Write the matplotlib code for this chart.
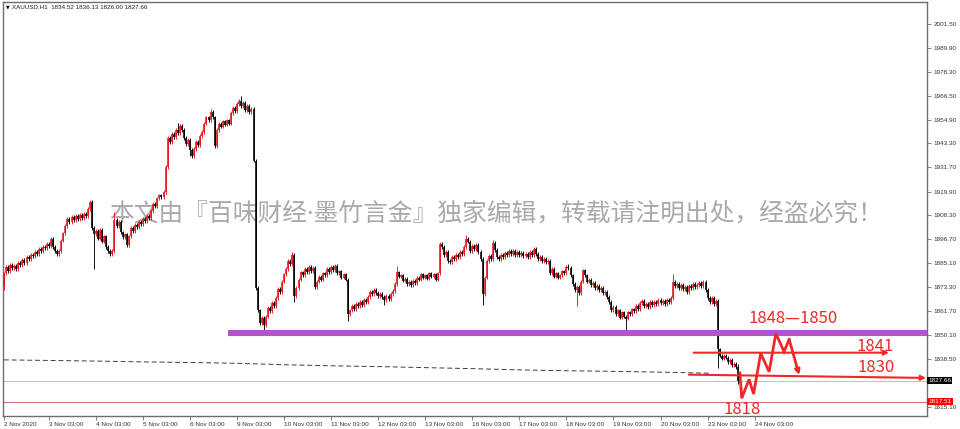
import numpy as numpy
import matplotlib
matplotlib.use('Agg')
import matplotlib.pyplot as plt

SYMBOL = 'XAUUSD,H1'

# hourly closes, one list per trading day
nov02 = [1880, 1883, 1881, 1884, 1882.5, 1883.5, 1882, 1885, 1884, 1886.5, 1885, 1888,
         1887, 1889, 1888.5, 1890.5, 1889.5, 1892, 1891, 1893, 1892.5, 1894.5, 1893.5]
nov03 = [1897, 1893, 1891, 1889.5, 1891, 1896, 1899.5, 1903, 1906.5, 1905, 1907.5, 1906,
         1908, 1906.5, 1908.5, 1907, 1909, 1908, 1911.5, 1915, 1902, 1899, 1900.5]
nov04 = [1897, 1901, 1895.5, 1898, 1893, 1891, 1889.5, 1891, 1906, 1903, 1905, 1900,
         1897.5, 1899, 1894, 1898, 1902, 1900.5, 1903.5, 1902.5, 1905, 1904, 1906.5]
nov05 = [1905.5, 1908, 1907, 1910.5, 1914, 1913, 1916.5, 1918, 1917, 1919.5, 1932, 1946,
         1944, 1948, 1946.5, 1950, 1948.5, 1952, 1950, 1946, 1943, 1945, 1940]
nov06 = [1937, 1940.5, 1944, 1942.5, 1947, 1949, 1953, 1956, 1954.5, 1958.5, 1956, 1942,
         1950, 1953, 1951.5, 1954, 1952.5, 1954.5, 1953, 1958, 1960.5, 1959, 1962.5]
nov09 = [1964, 1961.5, 1963, 1959.5, 1961.5, 1958.5, 1960, 1935, 1873, 1862, 1856, 1858.5,
         1855, 1859, 1863, 1861.5, 1865.5, 1864, 1868, 1872.5, 1871, 1876, 1879.5]
nov10 = [1882, 1886, 1884.5, 1889, 1869, 1873, 1877, 1880.5, 1879, 1882, 1880.5, 1883,
         1881, 1882.5, 1873.5, 1876, 1878.5, 1877, 1880, 1879, 1882, 1880.5, 1883]
nov11 = [1881.5, 1883.5, 1880, 1881, 1878, 1879.5, 1877, 1860, 1862, 1864, 1862.5, 1865,
         1864, 1866, 1864.5, 1867, 1866, 1868.5, 1871, 1870, 1872, 1870.5, 1869]
nov12 = [1870, 1868.5, 1867, 1869, 1867.5, 1870, 1871.5, 1875, 1880.5, 1878.5, 1879, 1876.5,
         1877.5, 1875, 1876, 1874.5, 1876.5, 1875.5, 1878, 1877, 1879.5, 1878, 1879]
nov13 = [1877.5, 1880, 1878.5, 1879.5, 1877, 1880, 1894.5, 1893, 1889, 1890.5, 1886, 1885.5,
         1888, 1887, 1889, 1888, 1890.5, 1889.5, 1893, 1897, 1895.5, 1891, 1893.5]
nov16 = [1892, 1894, 1890.5, 1887, 1870, 1878, 1886, 1888.5, 1887, 1895, 1891.5, 1888,
         1887, 1889, 1888, 1890, 1889, 1891, 1889.5, 1891, 1889, 1890.5, 1889]
nov17 = [1890, 1888.5, 1889.5, 1888, 1890.5, 1889, 1892, 1889.5, 1887, 1888, 1886, 1887,
         1885.5, 1886, 1880, 1882, 1878.5, 1880, 1878, 1879, 1881, 1880, 1883]
nov18 = [1882.5, 1879, 1875, 1872, 1873.5, 1870.5, 1876, 1881.5, 1879, 1876, 1877, 1874.5,
         1875.5, 1873, 1874, 1872, 1873, 1870.5, 1871, 1868.5, 1866, 1862, 1863.5]
nov19 = [1860, 1862, 1858.5, 1861, 1859, 1858, 1861, 1860, 1862.5, 1861.5, 1864, 1862.5,
         1865.5, 1866.5, 1864, 1865, 1863.5, 1866, 1864.5, 1866, 1865, 1867, 1865.5]
nov20 = [1866.5, 1865, 1867, 1866, 1868, 1876, 1874, 1875, 1873, 1874.5, 1872.5, 1873.5,
         1871, 1874, 1873, 1875, 1873.5, 1874.5, 1875.5, 1874, 1876, 1872, 1868]
nov23 = [1866, 1868, 1865, 1866.5, 1843, 1840, 1838.5, 1840, 1839, 1837, 1838, 1835.5,
         1836, 1834.52, 1827.66]
firstOpen = 1874.0

# long shadows that stand out (bar index -> price)
wickHighs = {54: 1910, 85: 1953.5, 101: 1960, 116: 1966.5, 141: 1890.5, 192: 1883.5,
             226: 1898.6, 239: 1896.5, 276: 1884.5, 327: 1879.5, 359: 1836.13}
wickLows = {0: 1872, 44: 1882, 91: 1937, 127: 1850.2, 142: 1866, 168: 1857, 186: 1864.6,
            234: 1864.6, 280: 1864, 304: 1852.5, 349: 1834, 359: 1826.0}

# right price scale (the 1826.90 level sits under the bid tag)
priceTicks = [2001.50, 1989.90, 1978.30, 1966.50, 1954.90, 1943.30, 1931.70, 1919.90,
              1908.30, 1896.70, 1885.10, 1873.30, 1861.70, 1850.10, 1838.50, 1826.90, 1815.10]
hiddenTick = 1826.90

# time scale labels and the bar they sit on
dateLabels = ['2 Nov 2020', '3 Nov 03:00', '4 Nov 03:00', '5 Nov 03:00', '6 Nov 03:00',
              '9 Nov 03:00', '10 Nov 03:00', '11 Nov 03:00', '12 Nov 03:00', '13 Nov 03:00',
              '16 Nov 03:00', '17 Nov 03:00', '18 Nov 03:00', '19 Nov 03:00', '20 Nov 03:00',
              '23 Nov 03:00', '24 Nov 03:00']
dateBars = [0, 22, 45, 68, 91, 114, 137, 160, 183, 206, 229, 252, 275, 298, 321, 344, 367]

# slow moving average (dashed)
maBars = [0, 23, 46, 69, 92, 115, 138, 161, 184, 207, 230, 253, 276, 299, 322, 345]
maValues = [1837.9, 1837.6, 1837.3, 1836.9, 1836.6, 1836.2, 1835.5, 1835.0, 1834.6, 1834.1,
            1833.6, 1833.0, 1832.6, 1832.3, 1831.9, 1831.4]

bidPrice = 1827.66
alertPrice = 1817.51

# analyst markup
zoneBars = [109.6, 460]
zonePrice = 1851.0
line1841Bars = [337.2, 432.7]
line1841Prices = [1841.4, 1841.4]
line1830Bars = [334.8, 450.8]
line1830Prices = [1830.7, 1829.1]
zigzagBars = [359.8, 360.7, 364.3, 366.5, 370.0, 374.1, 377.4, 381.4, 383.9, 388.8]
zigzagPrices = [1831.5, 1819.2, 1828.4, 1821.3, 1841.1, 1832.1, 1850.8, 1841.9, 1847.9, 1830.5]
markLabels = ['1848\u20141850', '1841', '1830', '1818']
markBars = [385.9, 425.8, 426.3, 361.0]
markPrices = [1858.1, 1844.4, 1834.2, 1813.5]

WATERMARK = '本文由『百味财经·墨竹言金』独家编辑，转载请注明出处，经盗必究！'

UP = '#e8141c'
DOWN = '#000000'
MARK = '#f02828'


def buildCandles():
    closes = numpy.array(nov02 + nov03 + nov04 + nov05 + nov06 + nov09 + nov10 + nov11 +
                         nov12 + nov13 + nov16 + nov17 + nov18 + nov19 + nov20 + nov23)
    opens = numpy.concatenate([[firstOpen], closes[:-1]])
    highs = numpy.maximum(opens, closes) + 0.9
    lows = numpy.minimum(opens, closes) - 0.9
    for i, v in wickHighs.items():
        highs[i] = v
    for i, v in wickLows.items():
        lows[i] = v
    return opens, highs, lows, closes


def drawCandles(ax, opens, highs, lows, closes):
    x = numpy.arange(len(closes))
    colors = [UP if c >= o else DOWN for o, c in zip(opens, closes)]
    bodyLo = numpy.minimum(opens, closes)
    bodyHi = numpy.maximum(numpy.maximum(opens, closes), bodyLo + 0.4)
    ax.vlines(x, lows, highs, colors=colors, linewidth=0.65, zorder=3)
    ax.vlines(x, bodyLo, bodyHi, colors=colors, linewidth=1.15, zorder=3)


def main():
    fig = plt.figure(figsize=(9.6, 4.29), dpi=100)
    ax = fig.add_axes([3 / 960, 13 / 429, 924 / 960, 414 / 429])
    ax.set_xlim(-0.5, 451.3)
    ax.set_ylim(1810.56, 2012.2)

    for s in ax.spines.values():
        s.set_color('#6e6e6e')
        s.set_linewidth(1.0)

    # watermark behind the bars (narrow middle dot from Noto Sans)
    ax.text(0.5335, 0.488, WATERMARK, transform=ax.transAxes, ha='center', va='center',
            fontsize=17.8, color='#a9a9a9', family=['Noto Sans', 'Noto Sans CJK SC'], zorder=1)

    opens, highs, lows, closes = buildCandles()

    ax.plot(maBars, maValues, color='#3c3c3c', linewidth=0.7, dashes=(5, 3), zorder=2)
    ax.axhline(bidPrice, color='#c4c4c4', linewidth=0.8, zorder=2)
    ax.axhline(alertPrice, color='#dc6e78', linewidth=0.8, zorder=2)

    drawCandles(ax, opens, highs, lows, closes)

    ax.plot(zoneBars, [zonePrice, zonePrice], color='#b552d4', linewidth=4.4,
            solid_capstyle='butt', zorder=4)

    # red forecast markup
    ax.annotate('', xy=(line1841Bars[1], line1841Prices[1]), xytext=(line1841Bars[0], line1841Prices[0]),
                arrowprops=dict(arrowstyle='-|>', color=MARK, lw=1.5, mutation_scale=7,
                                shrinkA=0, shrinkB=0), zorder=5)
    ax.annotate('', xy=(line1830Bars[1], line1830Prices[1]), xytext=(line1830Bars[0], line1830Prices[0]),
                arrowprops=dict(arrowstyle='-|>', color=MARK, lw=1.5, mutation_scale=7,
                                shrinkA=0, shrinkB=0), zorder=5)
    ax.plot(zigzagBars[:-1], zigzagPrices[:-1], color=MARK, linewidth=2.0, zorder=5,
            solid_joinstyle='miter')
    ax.annotate('', xy=(zigzagBars[-1], zigzagPrices[-1]), xytext=(zigzagBars[-2], zigzagPrices[-2]),
                arrowprops=dict(arrowstyle='-|>', color=MARK, lw=2.0, mutation_scale=7,
                                shrinkA=0, shrinkB=0), zorder=5)
    for label, bx, py in zip(markLabels, markBars, markPrices):
        ax.text(bx, py, label, ha='center', va='center', fontsize=12, color=MARK,
                family=['Noto Sans CJK SC', 'DejaVu Sans'], zorder=6, clip_on=False)

    # header line, values of the last bar
    ax.text(0.003, 0.988, '\u25bc', transform=ax.transAxes, fontsize=3.5, va='center', ha='left')
    header = '%s  %.2f %.2f %.2f %.2f' % (SYMBOL, opens[-1], highs[-1], lows[-1], closes[-1])
    ax.text(0.0095, 0.988, header, transform=ax.transAxes, fontsize=4.5, va='center', ha='left',
            family='Liberation Sans', color='#202020')

    # price scale on the right
    ax.yaxis.tick_right()
    ax.set_yticks(priceTicks)
    ax.set_yticklabels(['' if p == hiddenTick else '%.2f' % p for p in priceTicks])
    ax.tick_params(axis='y', length=3, width=0.6, color='#6e6e6e', pad=1.5,
                   labelsize=4.6, labelcolor='#333333')
    for lab in ax.get_yticklabels():
        lab.set_family('Liberation Sans')

    ax.set_xticks(dateBars)
    ax.set_xticklabels(dateLabels)
    ax.tick_params(axis='x', length=3, width=0.6, color='#6e6e6e', pad=1.2,
                   labelsize=4.6, labelcolor='#333333')
    for lab in ax.get_xticklabels():
        lab.set_ha('left')
        lab.set_family('Liberation Sans')

    # current price and alert tags on the scale
    for price, face in ((bidPrice, '#000000'), (alertPrice, '#ff0000')):
        ax.text(1.0015, price, '%.2f' % price, transform=ax.get_yaxis_transform(),
                ha='left', va='center', fontsize=4.6, color='white', family='Liberation Sans',
                clip_on=False, zorder=7,
                bbox=dict(boxstyle='square,pad=0.15', facecolor=face, edgecolor='none'))

    fig.savefig('out.png', dpi=100)


if (__name__ == "__main__"):
    main()
